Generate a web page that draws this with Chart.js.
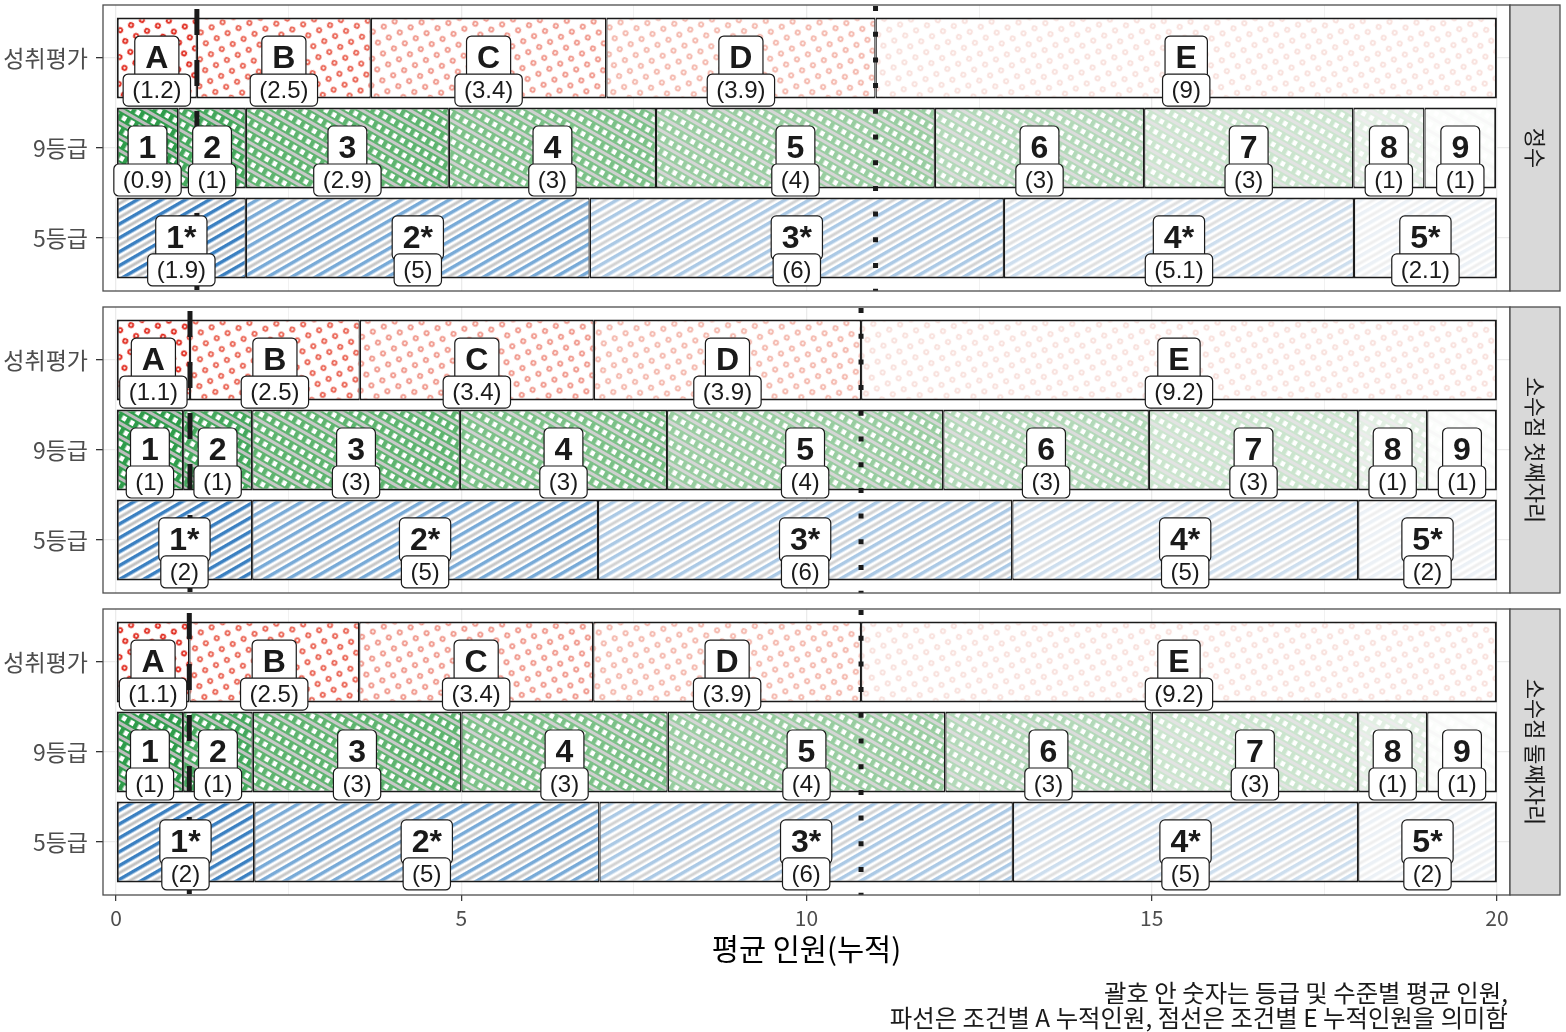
<!DOCTYPE html>
<html>
<head>
<meta charset="utf-8">
<script src="https://cdn.jsdelivr.net/npm/chart.js@4.4.1/dist/chart.umd.min.js"></script>
<style>
  body { margin: 0; background: #fff; }
  canvas { position: absolute; left: 0; }
</style>
</head>
<body>
<canvas id="p0" width="1566" height="300" style="top:0"></canvas>
<canvas id="p1" width="1566" height="300" style="top:300px"></canvas>
<canvas id="p2" width="1566" height="432" style="top:600px"></canvas>
<script>
// 행 / 패널 이름
const rowNames = ['성취평가', '9등급', '5등급'];
const facetNames = ['정수', '소수점 첫째자리', '소수점 둘째자리'];
const achieveLevels = ['A', 'B', 'C', 'D', 'E'];
const grade9Levels = ['1', '2', '3', '4', '5', '6', '7', '8', '9'];
const grade5Levels = ['1*', '2*', '3*', '4*', '5*'];
const xTicks = [0, 5, 10, 15, 20];

// 정수
const achieveInt = [1.17, 2.52, 3.41, 3.9, 9.0];
const grade9Int = [0.9, 0.98, 2.94, 3.0, 4.04, 3.03, 3.03, 1.03, 1.04];
const grade5Int = [1.88, 4.98, 6.0, 5.07, 2.07];
// 소수점 첫째자리
const achieveDec1 = [1.07, 2.46, 3.39, 3.87, 9.21];
const grade9Dec1 = [0.97, 1.0, 3.01, 3.0, 4.0, 2.98, 3.03, 1.0, 1.01];
const grade5Dec1 = [1.97, 5.01, 6.0, 5.01, 2.01];
// 소수점 둘째자리
const achieveDec2 = [1.06, 2.46, 3.39, 3.88, 9.21];
const grade9Dec2 = [0.97, 1.01, 3.02, 2.99, 4.02, 2.99, 2.99, 1.0, 1.01];
const grade5Dec2 = [2.0, 5.0, 5.99, 5.0, 2.01];

const panels = [
  [achieveInt, grade9Int, grade5Int],
  [achieveDec1, grade9Dec1, grade5Dec1],
  [achieveDec2, grade9Dec2, grade5Dec2]
];
const levels = [achieveLevels, grade9Levels, grade5Levels];

const KR = '"Noto Sans CJK KR", "Noto Sans", sans-serif';
const NUM = '"Liberation Sans Narrow", "Noto Sans CJK KR", sans-serif';
const LAB = '"Liberation Sans", Arial, sans-serif';

// ---- 패턴 ----
function tile(w, h, angle, draw) {
  const c = document.createElement('canvas');
  c.width = w; c.height = h;
  const g = c.getContext('2d');
  draw(g, w, h);
  const p = g.createPattern(c, 'repeat');
  p.setTransform(new DOMMatrix().rotateSelf(angle));
  return p;
}
function dots(col) {
  return tile(17, 17, 20, (g) => {
    g.fillStyle = '#fff'; g.fillRect(0, 0, 17, 17);
    g.strokeStyle = col; g.lineWidth = 1.9;
    [[4.25, 4.25], [12.75, 12.75]].forEach(([x, y]) => {
      g.beginPath(); g.arc(x, y, 2.1, 0, Math.PI * 2); g.stroke();
    });
  });
}
function plaid(col, gray) {
  return tile(9, 12, 30, (g) => {
    g.fillStyle = col; g.fillRect(0, 0, 9, 12);
    g.fillStyle = gray; g.fillRect(0, 9, 9, 3);
    g.fillStyle = '#fff'; g.fillRect(2.5, 2, 4.5, 5);
  });
}
function stripes(col, gray) {
  return tile(4, 12, -30, (g) => {
    g.fillStyle = '#fff'; g.fillRect(0, 0, 4, 12);
    g.fillStyle = col; g.fillRect(0, 0, 4, 3.5);
    g.fillStyle = gray; g.fillRect(0, 6.5, 4, 3);
  });
}
const redCols = ['#e0291d', '#ea6353', '#f0978b', '#f4b7ac', '#f8e0dc'];
const greenCols = ['#2f9c4b', '#45a85d', '#5fb470', '#7cc188', '#99cda1', '#b3d9b9', '#cbe5ce', '#e2efe3', '#fbfdfb'];
const greenGray = ['#bdbdbd', '#c2c2c2', '#c9c9c9', '#d0d0d0', '#d6d6d6', '#dcdcdc', '#e3e3e3', '#ececec', '#f8f8f8'];
const blueCols = ['#3b80c1', '#78aad7', '#abc9e5', '#cddeee', '#ecf1f6'];
const blueGray = ['#c2c2c2', '#c8c8c8', '#d3d3d3', '#e0e0e0', '#efefef'];
const fills = [
  redCols.map(dots),
  greenCols.map((c, i) => plaid(c, greenGray[i])),
  blueCols.map((c, i) => stripes(c, blueGray[i]))
];

function fmt(v) { return String(Math.round(v * 10) / 10); }

function drawLabel(ctx, text, font, pad, cx, cy, h) {
  ctx.font = font;
  const w = ctx.measureText(text).width + pad * 2;
  const x0 = cx - w / 2, y0 = cy - h / 2, r = 5;
  ctx.beginPath();
  ctx.moveTo(x0 + r, y0);
  ctx.arcTo(x0 + w, y0, x0 + w, y0 + h, r);
  ctx.arcTo(x0 + w, y0 + h, x0, y0 + h, r);
  ctx.arcTo(x0, y0 + h, x0, y0, r);
  ctx.arcTo(x0, y0, x0 + w, y0, r);
  ctx.closePath();
  ctx.fillStyle = '#fff'; ctx.fill();
  ctx.lineWidth = 1.2; ctx.strokeStyle = '#1a1a1a'; ctx.stroke();
  ctx.fillStyle = '#1a1a1a';
  ctx.textAlign = 'center'; ctx.textBaseline = 'middle';
  ctx.fillText(text, cx, cy + 1);
}

function facetPlugin(p, caption) {
  return {
    id: 'facet' + p,
    afterDatasetsDraw(chart) {
      const { ctx, chartArea: a, scales: { x } } = chart;
      const ach = panels[p][0];
      const aCum = ach[0];
      const dCum = ach.slice(0, 4).reduce((s, v) => s + v, 0);
      ctx.save();
      ctx.strokeStyle = '#1a1a1a';
      ctx.lineWidth = 5;
      ctx.setLineDash([26, 25]);
      let px = x.getPixelForValue(aCum);
      ctx.beginPath(); ctx.moveTo(px, a.top + 4); ctx.lineTo(px, a.bottom); ctx.stroke();
      ctx.setLineDash([5, 20.7]);
      px = x.getPixelForValue(dCum);
      ctx.beginPath(); ctx.moveTo(px, a.top + 1); ctx.lineTo(px, a.bottom); ctx.stroke();
      ctx.setLineDash([]);
      chart.data.datasets.forEach((ds, k) => {
        chart.getDatasetMeta(k).data.forEach((bar, j) => {
          const raw = ds.data[j];
          const { x: x1, base, y } = bar.getProps(['x', 'base', 'y'], true);
          const cx = (x1 + base) / 2;
          drawLabel(ctx, raw.lvl, 'bold 32px ' + LAB, 10.5, cx, y, 44);
          drawLabel(ctx, '(' + fmt(raw.x) + ')', '24px ' + LAB, 9, cx, y + 32, 32);
        });
      });
      ctx.restore();
    },
    afterDraw(chart) {
      const { ctx, chartArea: a } = chart;
      ctx.save();
      ctx.strokeStyle = '#4d4d4d'; ctx.lineWidth = 1.3;
      ctx.strokeRect(a.left, a.top, a.right - a.left, a.bottom - a.top);
      ctx.fillStyle = '#d9d9d9';
      ctx.fillRect(a.right, a.top, 50, a.bottom - a.top);
      ctx.strokeRect(a.right, a.top, 50, a.bottom - a.top);
      ctx.translate(a.right + 25, (a.top + a.bottom) / 2);
      ctx.rotate(Math.PI / 2);
      ctx.fillStyle = '#1a1a1a';
      ctx.font = '22px ' + KR;
      ctx.textAlign = 'center'; ctx.textBaseline = 'middle';
      ctx.fillText(facetNames[p], 0, 0);
      ctx.restore();
      if (caption) {
        ctx.save();
        ctx.fillStyle = '#1a1a1a';
        ctx.font = '24.4px ' + KR;
        ctx.textAlign = 'right'; ctx.textBaseline = 'middle';
        caption.forEach((line, i) => ctx.fillText(line, 1508, 393 + i * 25));
        ctx.restore();
      }
    }
  };
}

function makeChart(p, id, padTop, xHeight, padBottom, bottom) {
  const rows = panels[p];
  const datasets = [];
  for (let k = 0; k < 9; k++) {
    const data = [];
    rows.forEach((vals, r) => {
      if (k < vals.length) data.push({ x: vals[k], y: r, lvl: levels[r][k] });
    });
    datasets.push({
      data,
      backgroundColor: c => (c.raw ? fills[c.raw.y][k] : '#fff'),
      borderColor: '#1a1a1a',
      borderWidth: c => ({
        top: 2, bottom: 2,
        left: k === 0 ? 2 : 1.3,
        right: c.raw && k === rows[c.raw.y].length - 1 ? 2 : 1.3
      }),
      borderSkipped: false,
      inflateAmount: 0,
      barPercentage: 0.9,
      categoryPercentage: 1
    });
  }
  const caption = bottom ? ['괄호 안 숫자는 등급 및 수준별 평균 인원,', '파선은 조건별 A 누적인원, 점선은 조건별 E 누적인원을 의미함'] : null;
  return new Chart(document.getElementById(id), {
    type: 'bar',
    data: { datasets },
    options: {
      indexAxis: 'y',
      responsive: false,
      animation: false,
      events: [],
      layout: { padding: { top: padTop, right: 56, bottom: padBottom, left: 0 } },
      plugins: { legend: { display: false }, tooltip: { enabled: false } },
      scales: {
        x: {
          type: 'linear', stacked: true, min: -0.19, max: 20.19, offset: false,
          afterBuildTicks: s => { s.ticks = [0, 2.5, 5, 7.5, 10, 12.5, 15, 17.5, 20].map(v => ({ value: v })); },
          afterFit: s => { s.height = xHeight; },
          border: { display: false },
          grid: {
            offset: false,
            color: '#ebebeb',
            lineWidth: c => (c.tick && xTicks.includes(c.tick.value) ? 1.3 : 0.7),
            drawTicks: bottom,
            tickLength: 6,
            tickWidth: 1.2,
            tickColor: c => (c.tick && xTicks.includes(c.tick.value) ? '#333' : 'rgba(0,0,0,0)')
          },
          ticks: {
            display: bottom,
            padding: 4,
            color: '#4d4d4d',
            font: { family: NUM, size: 21 },
            autoSkip: false,
            maxRotation: 0,
            callback: v => (xTicks.includes(v) ? String(v) : '')
          },
          title: {
            display: bottom,
            text: '평균 인원(누적)',
            color: '#000',
            font: { family: KR, size: 29.5 },
            padding: { top: 0, bottom: 0 }
          }
        },
        y: {
          type: 'linear', stacked: true, reverse: true, min: -0.59, max: 2.59, offset: false,
          afterBuildTicks: s => { s.ticks = [0, 1, 2].map(v => ({ value: v })); },
          afterFit: s => { s.width = 103; s.paddingTop = 0; s.paddingBottom = 0; },
          border: { display: false },
          grid: { offset: false, color: '#ebebeb', lineWidth: 1.3, tickLength: 7, tickWidth: 1.3, tickColor: '#333' },
          ticks: {
            padding: 8,
            color: '#4d4d4d',
            font: { family: KR, size: 23 },
            autoSkip: false,
            callback: v => rowNames[v]
          }
        }
      }
    },
    plugins: [facetPlugin(p, caption)]
  });
}

const charts = [
  makeChart(0, 'p0', 5, 9, 0, false),
  makeChart(1, 'p1', 7, 7, 0, false),
  makeChart(2, 'p2', 9, 71, 66, true)
];
if (document.fonts && document.fonts.ready) {
  document.fonts.ready.then(() => charts.forEach(c => c.update()));
}
</script>
</body>
</html>
